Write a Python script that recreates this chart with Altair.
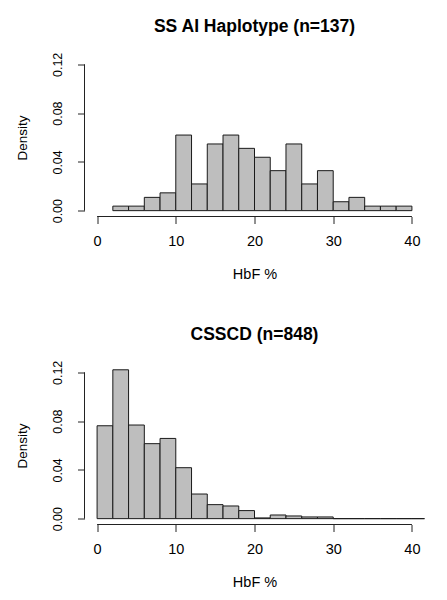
import altair as alt
import pandas as pd

# ---- data ----
top_bin_start = [2, 4, 6, 8, 10, 12, 14, 16, 18, 20, 22, 24, 26, 28, 30, 32, 34, 36, 38]
top_density = [0.0037, 0.0037, 0.0109, 0.0146, 0.0620, 0.0219, 0.0547, 0.0620, 0.0511,
               0.0438, 0.0328, 0.0547, 0.0219, 0.0328, 0.0073, 0.0109, 0.0037, 0.0037, 0.0037]

bot_bin_start = [0, 2, 4, 6, 8, 10, 12, 14, 16, 18, 20, 22, 24, 26, 28, 30, 32, 34, 36, 38, 40]
bot_density = [0.0762, 0.1221, 0.0768, 0.0615, 0.0658, 0.0418, 0.0202, 0.0115, 0.0104, 0.0066,
               0.0006, 0.0030, 0.0022, 0.0014, 0.0014, 0.0, 0.0, 0.0, 0.0, 0.0, 0.0]

BIN_WIDTH = 2
titles = ["SS AI Haplotype (n=137)", "CSSCD (n=848)"]
x_ticks = [0, 10, 20, 30, 40]
y_ticks = [0.0, 0.02, 0.04, 0.06, 0.08, 0.10, 0.12]
x_title = "HbF %"
y_title = "Density"

X_DOMAIN = [-1.6, 41.6]
Y_DOMAIN = [-0.0048, 0.1248]
W, H = 340, 158
FONT = "Liberation Sans"


def panel(starts, dens, title):
    df = pd.DataFrame({"start": starts, "dens": dens})
    df["end"] = df["start"] + BIN_WIDTH
    xs = alt.Scale(domain=X_DOMAIN, nice=False, zero=False)
    ys = alt.Scale(domain=Y_DOMAIN, nice=False, zero=False)
    bars = alt.Chart(df).mark_bar(
        fill="#bebebe", stroke="#1a1a1a", strokeWidth=1, clip=True
    ).encode(
        x=alt.X("start:Q", scale=xs,
                axis=alt.Axis(values=x_ticks, title=x_title, domain=False, grid=False,
                              tickSize=7, tickColor="#222", labelFontSize=14.5,
                              labelPadding=11, titlePadding=19, labelFlush=False)),
        x2="end:Q",
        y=alt.Y("dens:Q", scale=ys,
                axis=alt.Axis(values=y_ticks, title=y_title, domain=False, grid=False,
                              format=".2f", tickSize=7, tickColor="#222",
                              labelExpr="(round(datum.value*100) % 4 == 0) ? datum.label : ''",
                              labelAngle=-90, labelAlign="center", labelBaseline="bottom",
                              labelFontSize=12.5, labelPadding=13, titlePadding=22,
                              titleFontSize=13.5, labelFlush=False)),
        y2=alt.datum(0),
    )
    xaxis_df = pd.DataFrame({"a": [x_ticks[0]], "b": [x_ticks[-1]], "y": [Y_DOMAIN[0]]})
    xline = alt.Chart(xaxis_df).mark_rule(color="#222", strokeWidth=1).encode(
        x=alt.X("a:Q", scale=xs), x2="b:Q", y=alt.Y("y:Q", scale=ys))
    yaxis_df = pd.DataFrame({"a": [y_ticks[0]], "b": [y_ticks[-1]], "x": [X_DOMAIN[0]]})
    yline = alt.Chart(yaxis_df).mark_rule(color="#222", strokeWidth=1).encode(
        y=alt.Y("a:Q", scale=ys), y2="b:Q", x=alt.X("x:Q", scale=xs))
    return alt.layer(bars, xline, yline).properties(
        width=W, height=H,
        title=alt.TitleParams(title, fontSize=17.5, fontWeight="bold", font=FONT,
                              anchor="middle", frame="group", offset=16.5, color="black"),
    )


chart = alt.vconcat(
    panel(top_bin_start, top_density, titles[0]),
    panel(bot_bin_start, bot_density, titles[1]),
    spacing=150,
    bounds="flush",
).properties(
    padding={"left": 7.5, "top": 9.5, "right": 5, "bottom": 5},
    background="white",
).configure_view(stroke=None).configure_axis(
    labelFont=FONT, titleFont=FONT, labelColor="black", titleColor="black",
    titleFontWeight="normal", titleFontSize=14.5, tickWidth=1,
)

chart.save("out.html", embed_options={"renderer": "svg", "actions": False})
